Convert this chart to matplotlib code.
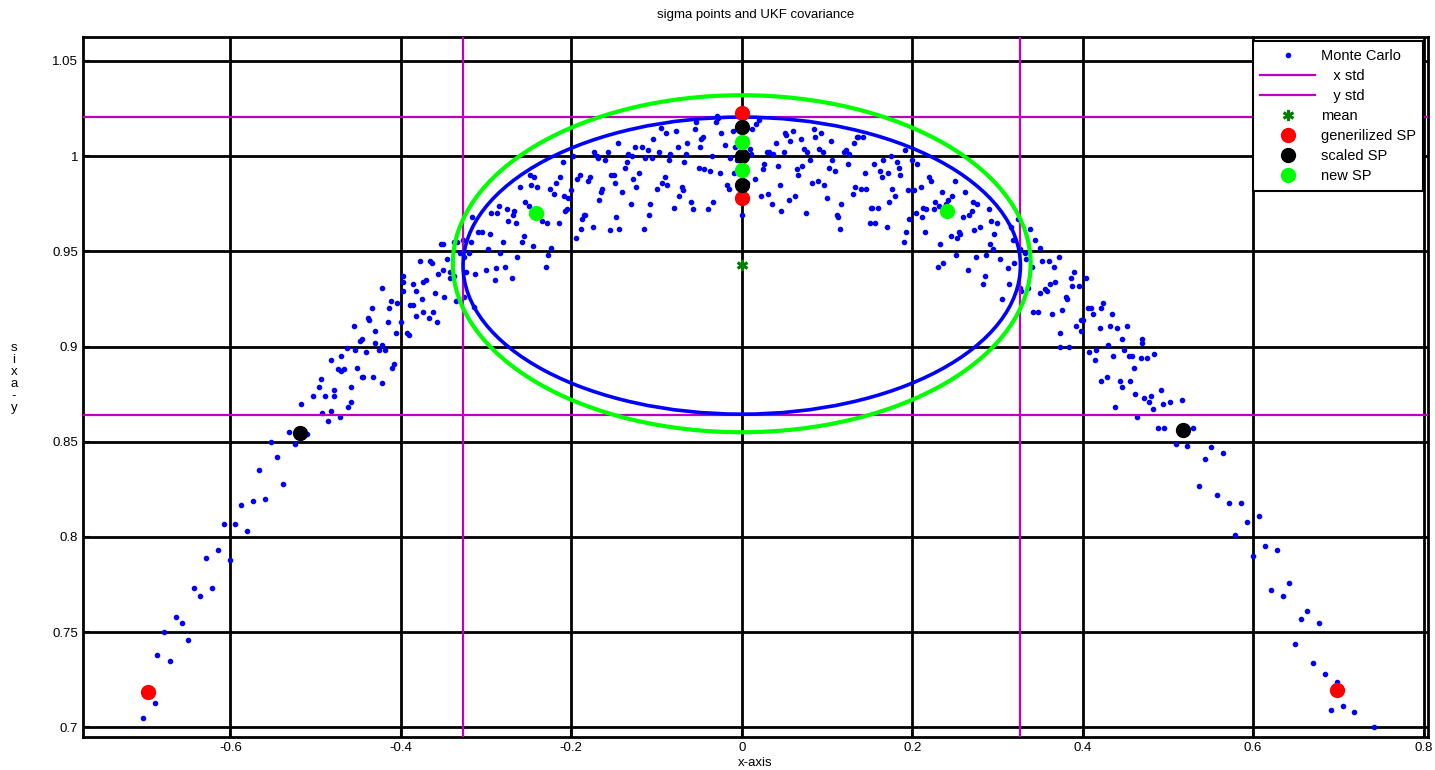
import numpy as np
import matplotlib.pyplot as plt
from matplotlib.patches import Ellipse
from matplotlib.ticker import FuncFormatter

plt.rcParams['font.family'] = ['Liberation Sans', 'DejaVu Sans']
plt.rcParams['font.size'] = 9

# Monte Carlo cloud (x, y)
mc_left_tail = [
    (-0.503, 0.874), (-0.510, 0.854), (-0.517, 0.870), (-0.524, 0.849), (-0.531, 0.855),
    (-0.538, 0.828), (-0.545, 0.842), (-0.552, 0.850), (-0.559, 0.820), (-0.566, 0.835),
    (-0.573, 0.819), (-0.580, 0.803), (-0.587, 0.817), (-0.594, 0.807), (-0.601, 0.788),
    (-0.608, 0.807), (-0.615, 0.793), (-0.622, 0.773), (-0.629, 0.789), (-0.636, 0.769),
    (-0.643, 0.773), (-0.650, 0.746), (-0.657, 0.755), (-0.664, 0.758), (-0.671, 0.735),
    (-0.678, 0.750), (-0.686, 0.738), (-0.694, 0.717), (-0.703, 0.705), (-0.689, 0.713),
]
mc_left = [
    (-0.496, 0.879), (-0.492, 0.865), (-0.489, 0.874), (-0.485, 0.861), (-0.482, 0.893),
    (-0.478, 0.877), (-0.474, 0.888), (-0.471, 0.863), (-0.467, 0.888), (-0.463, 0.899),
    (-0.459, 0.879), (-0.455, 0.911), (-0.452, 0.889), (-0.448, 0.903), (-0.444, 0.884),
    (-0.441, 0.897), (-0.437, 0.914), (-0.433, 0.884), (-0.430, 0.908), (-0.426, 0.898),
    (-0.422, 0.931), (-0.419, 0.898), (-0.415, 0.913), (-0.411, 0.924), (-0.408, 0.891),
    (-0.404, 0.923), (-0.400, 0.913), (-0.397, 0.934), (-0.393, 0.907), (-0.389, 0.922),
    (-0.386, 0.933), (-0.382, 0.916), (-0.378, 0.945), (-0.375, 0.925), (-0.371, 0.935),
    (-0.367, 0.915), (-0.364, 0.944), (-0.360, 0.928), (-0.356, 0.938), (-0.353, 0.954),
    (-0.349, 0.926), (-0.346, 0.946), (-0.342, 0.939), (-0.338, 0.955), (-0.335, 0.924),
    (-0.331, 0.949), (-0.327, 0.956), (-0.324, 0.939), (-0.320, 0.949), (-0.317, 0.968),
    (-0.313, 0.938), (-0.310, 0.960),
    (-0.478, 0.874), (-0.470, 0.895), (-0.462, 0.868), (-0.454, 0.898), (-0.446, 0.884),
    (-0.438, 0.915), (-0.430, 0.902), (-0.422, 0.881), (-0.414, 0.920), (-0.406, 0.907),
    (-0.398, 0.937), (-0.390, 0.906), (-0.382, 0.929), (-0.374, 0.918), (-0.366, 0.945),
    (-0.358, 0.913), (-0.350, 0.940), (-0.342, 0.936), (-0.334, 0.955), (-0.326, 0.926),
    (-0.318, 0.955),
    (-0.494, 0.883), (-0.482, 0.866), (-0.470, 0.887), (-0.458, 0.871), (-0.446, 0.904),
    (-0.434, 0.920), (-0.422, 0.901), (-0.410, 0.889), (-0.398, 0.929), (-0.386, 0.922),
    (-0.374, 0.934), (-0.362, 0.918), (-0.350, 0.954), (-0.338, 0.937), (-0.326, 0.947),
    (-0.314, 0.921),
]
mc_top = [
    (-0.305, 0.960), (-0.300, 0.940), (-0.295, 0.959), (-0.290, 0.935), (-0.285, 0.974),
    (-0.280, 0.955), (-0.275, 0.972), (-0.270, 0.936), (-0.265, 0.965), (-0.260, 0.984),
    (-0.255, 0.958), (-0.250, 0.974), (-0.245, 0.953), (-0.240, 0.984), (-0.235, 0.970),
    (-0.230, 0.942), (-0.225, 0.983), (-0.220, 0.980), (-0.215, 0.965), (-0.210, 0.997),
    (-0.205, 0.972), (-0.200, 0.982), (-0.195, 0.957), (-0.190, 0.990), (-0.185, 0.969),
    (-0.180, 0.987), (-0.175, 0.963), (-0.170, 1.000), (-0.165, 0.981), (-0.160, 0.998),
    (-0.155, 0.961), (-0.150, 0.990), (-0.145, 1.007), (-0.140, 0.981), (-0.135, 0.997),
    (-0.130, 0.975), (-0.125, 1.005), (-0.120, 0.991), (-0.115, 0.962), (-0.110, 1.003),
    (-0.105, 0.999), (-0.100, 0.983), (-0.095, 1.015), (-0.090, 0.989), (-0.085, 0.998),
    (-0.080, 0.973), (-0.075, 1.005), (-0.070, 0.984), (-0.065, 1.001), (-0.060, 0.976),
    (-0.055, 1.014), (-0.050, 0.994), (-0.045, 1.010), (-0.040, 0.972), (-0.035, 1.000),
    (-0.030, 1.018), (-0.025, 0.991), (-0.020, 1.006), (-0.015, 0.983), (-0.010, 1.013),
    (-0.005, 0.998), (0.000, 0.969), (0.005, 1.009), (0.010, 1.004), (0.015, 0.988),
    (0.020, 1.019), (0.025, 0.993), (0.030, 1.002), (0.035, 0.975), (0.040, 1.007),
    (0.045, 0.985), (0.050, 1.002), (0.055, 0.977), (0.060, 1.013), (0.065, 0.993),
    (0.070, 1.009), (0.075, 0.970), (0.080, 0.998), (0.085, 1.014), (0.090, 0.987),
    (0.095, 1.002), (0.100, 0.978), (0.105, 1.008), (0.110, 0.992), (0.115, 0.962),
    (0.120, 1.002), (0.125, 0.996), (0.130, 0.980), (0.135, 1.010), (0.140, 0.983),
    (0.145, 0.991), (0.150, 0.965), (0.155, 0.996), (0.160, 0.973), (0.165, 0.989),
    (0.170, 0.963), (0.175, 1.000), (0.180, 0.979), (0.185, 0.994), (0.190, 0.955),
    (0.195, 0.982), (0.200, 0.998), (0.205, 0.970), (0.210, 0.984), (0.215, 0.960),
    (0.220, 0.989), (0.225, 0.972), (0.230, 0.942), (0.235, 0.981), (0.240, 0.975),
    (0.245, 0.958), (0.250, 0.987), (0.255, 0.960), (0.260, 0.968), (0.265, 0.940),
    (0.270, 0.971), (0.275, 0.947), (0.280, 0.963), (0.285, 0.937), (0.290, 0.972),
    (0.295, 0.951), (0.300, 0.965), (0.305, 0.925),
    (-0.2975, 0.951), (-0.2875, 0.970), (-0.2775, 0.942), (-0.2675, 0.971), (-0.2575, 0.955),
    (-0.2475, 0.985), (-0.2375, 0.970), (-0.2275, 0.948), (-0.2175, 0.986), (-0.2075, 0.971),
    (-0.1975, 1.000), (-0.1875, 0.967), (-0.1775, 0.989), (-0.1675, 0.977), (-0.1575, 1.002),
    (-0.1475, 0.968), (-0.1375, 0.994), (-0.1275, 0.988), (-0.1175, 1.005), (-0.1075, 0.975),
    (-0.0975, 1.002), (-0.0875, 0.985), (-0.0775, 1.013), (-0.0675, 0.997), (-0.0575, 0.972),
    (-0.0475, 1.009), (-0.0375, 0.992), (-0.0275, 1.020), (-0.0175, 0.985), (-0.0075, 1.005),
    (0.0025, 0.991), (0.0125, 1.014), (0.0225, 0.979), (0.0325, 1.002), (0.0425, 0.995),
    (0.0525, 1.011), (0.0625, 0.979), (0.0725, 1.004), (0.0825, 0.986), (0.0925, 1.012),
    (0.1025, 0.994), (0.1125, 0.968), (0.1225, 1.003), (0.1325, 0.984), (0.1425, 1.010),
    (0.1525, 0.973), (0.1625, 0.992), (0.1725, 0.976), (0.1825, 0.997), (0.1925, 0.960),
    (0.2025, 0.982), (0.2125, 0.973), (0.2225, 0.987), (0.2325, 0.954), (0.2425, 0.977),
    (0.2525, 0.957), (0.2625, 0.981), (0.2725, 0.961), (0.2825, 0.933), (0.2925, 0.966),
    (0.3025, 0.946),
    (-0.2938, 0.970), (-0.2838, 0.949), (-0.2738, 0.966), (-0.2638, 0.947), (-0.2538, 0.976),
    (-0.2438, 0.989), (-0.2338, 0.966), (-0.2238, 0.952), (-0.2138, 0.989), (-0.2038, 0.978),
    (-0.1938, 0.988), (-0.1838, 0.969), (-0.1738, 1.002), (-0.1638, 0.983), (-0.1538, 0.990),
    (-0.1438, 0.962), (-0.1338, 1.001), (-0.1238, 0.984), (-0.1138, 0.999), (-0.1038, 1.009),
    (-0.0938, 0.986), (-0.0838, 1.001), (-0.0738, 0.979), (-0.0638, 1.007), (-0.0538, 1.018),
    (-0.0438, 0.993), (-0.0338, 0.976), (-0.0238, 1.012), (-0.0138, 0.999), (-0.0038, 1.007),
    (0.0062, 0.986), (0.0162, 1.017), (0.0262, 0.996), (0.0362, 1.001), (0.0462, 0.971),
    (0.0562, 1.008), (0.0662, 0.990), (0.0762, 1.002), (0.0862, 1.010), (0.0962, 0.985),
    (0.1062, 0.998), (0.1162, 0.975), (0.1262, 1.001), (0.1362, 1.010), (0.1462, 0.983),
    (0.1562, 0.965), (0.1662, 0.998), (0.1762, 0.983), (0.1862, 0.990), (0.1962, 0.967),
    (0.2062, 0.996), (0.2162, 0.972), (0.2262, 0.976), (0.2362, 0.944), (0.2462, 0.979),
    (0.2562, 0.959), (0.2662, 0.969), (0.2762, 0.975), (0.2862, 0.948), (0.2962, 0.959),
    (-0.2888, 0.941), (-0.2688, 0.969), (-0.2488, 0.990), (-0.2288, 0.965), (-0.2088, 0.979),
    (-0.1888, 0.962), (-0.1688, 0.999), (-0.1488, 0.986), (-0.1288, 1.000), (-0.1088, 0.969),
    (-0.0888, 1.012), (-0.0688, 0.982), (-0.0488, 1.005), (-0.0288, 1.021), (-0.0088, 0.991),
    (0.0112, 1.001), (0.0312, 0.980), (0.0512, 1.012), (0.0712, 0.995), (0.0912, 1.004),
    (0.1112, 0.969), (0.1312, 1.007), (0.1512, 0.973), (0.1712, 0.991), (0.1912, 1.003),
    (0.2112, 0.968), (0.2312, 0.974), (0.2512, 0.948), (0.2712, 0.976), (0.2912, 0.954),
]
mc_right = [
    (0.312, 0.941), (0.316, 0.963), (0.320, 0.944), (0.324, 0.967), (0.328, 0.929),
    (0.332, 0.949), (0.336, 0.931), (0.340, 0.942), (0.344, 0.956), (0.348, 0.918),
    (0.352, 0.945), (0.356, 0.930), (0.360, 0.945), (0.364, 0.917), (0.368, 0.934),
    (0.372, 0.947), (0.376, 0.919), (0.380, 0.926), (0.384, 0.900), (0.388, 0.932),
    (0.392, 0.911), (0.396, 0.932), (0.400, 0.914), (0.404, 0.936), (0.408, 0.897),
    (0.412, 0.917), (0.416, 0.898), (0.420, 0.910), (0.424, 0.923), (0.428, 0.884),
    (0.432, 0.911), (0.436, 0.895), (0.440, 0.910), (0.444, 0.882), (0.448, 0.898),
    (0.452, 0.911), (0.456, 0.882), (0.460, 0.889), (0.464, 0.863), (0.468, 0.894),
    (0.472, 0.873), (0.476, 0.894), (0.480, 0.874), (0.484, 0.896), (0.488, 0.857),
    (0.492, 0.877), (0.496, 0.857),
    (0.318, 0.956), (0.326, 0.931), (0.334, 0.946), (0.342, 0.918), (0.350, 0.952),
    (0.358, 0.929), (0.366, 0.942), (0.374, 0.900), (0.382, 0.925), (0.390, 0.939),
    (0.398, 0.908), (0.406, 0.920), (0.414, 0.893), (0.422, 0.920), (0.430, 0.901),
    (0.438, 0.868), (0.446, 0.904), (0.454, 0.895), (0.462, 0.875), (0.470, 0.902),
    (0.478, 0.871),
    (0.314, 0.933), (0.326, 0.951), (0.338, 0.962), (0.350, 0.928), (0.362, 0.933),
    (0.374, 0.907), (0.386, 0.936), (0.398, 0.914), (0.410, 0.920), (0.422, 0.882),
    (0.434, 0.917), (0.446, 0.879), (0.458, 0.895), (0.470, 0.904), (0.482, 0.867),
    (0.494, 0.870),
]
mc_right_tail = [
    (0.502, 0.871), (0.509, 0.849), (0.516, 0.872), (0.523, 0.848), (0.530, 0.857),
    (0.537, 0.827), (0.544, 0.841), (0.551, 0.847), (0.558, 0.822), (0.565, 0.844),
    (0.572, 0.818), (0.579, 0.801), (0.586, 0.818), (0.593, 0.808), (0.600, 0.790),
    (0.607, 0.811), (0.614, 0.795), (0.621, 0.772), (0.628, 0.793), (0.635, 0.769),
    (0.642, 0.776), (0.649, 0.744), (0.656, 0.757), (0.663, 0.761), (0.670, 0.734),
    (0.677, 0.755), (0.684, 0.728), (0.691, 0.709), (0.698, 0.724), (0.706, 0.711),
    (0.718, 0.708), (0.742, 0.700),
]

# std lines and ellipses
x_std = 0.327
y_std_lines = [1.0206, 0.8643]
mean_pt = (0.0, 0.943)
ukf_center = (0.0, 0.9425)
ukf_semi = (0.327, 0.078)
new_center = (0.0, 0.9435)
new_semi = (0.339, 0.0885)

# sigma points
gen_x = [0.0, 0.0, -0.697, 0.698]
gen_y = [1.0228, 0.978, 0.7184, 0.7195]
scaled_x = [0.0, 0.0, 0.0, -0.518, 0.518]
scaled_y = [1.0154, 1.0, 0.985, 0.8548, 0.8564]
new_x = [0.0, 0.0, -0.241, 0.241]
new_y = [1.0075, 0.9928, 0.970, 0.9713]

xticks = [-0.6, -0.4, -0.2, 0, 0.2, 0.4, 0.6, 0.8]
yticks = [0.7, 0.75, 0.8, 0.85, 0.9, 0.95, 1.0, 1.05]

mc = np.array(mc_left_tail + mc_left + mc_top + mc_right + mc_right_tail)

fig = plt.figure(figsize=(14.35, 7.7), dpi=100)
ax = fig.add_axes([0.0578, 0.043, 0.9372, 0.909])

ax.plot(mc[:, 0], mc[:, 1], '.', color='#0000ff', ms=6, label='Monte Carlo', zorder=3)
mag = '#bf00bf'
ax.axvline(-x_std, color=mag, lw=1.6, label='   x std', zorder=4)
ax.axvline(x_std, color=mag, lw=1.6, zorder=4)
ax.axhline(y_std_lines[0], color=mag, lw=1.6, label='   y std', zorder=4)
ax.axhline(y_std_lines[1], color=mag, lw=1.6, zorder=4)

ax.add_patch(Ellipse(new_center, 2 * new_semi[0], 2 * new_semi[1], fill=False,
                     edgecolor='#00ff00', lw=3.0, zorder=5))
ax.add_patch(Ellipse(ukf_center, 2 * ukf_semi[0], 2 * ukf_semi[1], fill=False,
                     edgecolor='#0000ff', lw=2.6, zorder=5))

ax.plot([mean_pt[0]], [mean_pt[1]], marker=(6, 2, 0), ls='none', color='#007f00',
        ms=8, mew=2, label='mean', zorder=6)
ax.plot(gen_x, gen_y, 'o', color='#ff0000', ms=10, label='generilized SP', zorder=6)
ax.plot(scaled_x, scaled_y, 'o', color='k', ms=10, label='scaled SP', zorder=6)
ax.plot(new_x, new_y, 'o', color='#00ff00', ms=10, label='new SP', zorder=6)

ax.set_xlim(-0.773, 0.805)
ax.set_ylim(0.695, 1.0626)
ax.set_xticks(xticks)
ax.set_yticks(yticks)
fmt = FuncFormatter(lambda v, p: '%g' % round(v, 3))
ax.xaxis.set_major_formatter(fmt)
ax.yaxis.set_major_formatter(fmt)
ax.grid(True, color='k', lw=2, zorder=1)
ax.set_axisbelow(True)
for s in ax.spines.values():
    s.set_linewidth(2)
ax.tick_params(direction='in', length=5, width=1.5, labelsize=9.5)

ax.set_title('sigma points and UKF covariance', fontsize=9.5, pad=14)
ax.set_xlabel('x-axis', fontsize=9.5, labelpad=2)
fig.text(0.0098, 0.509, 's\ni\nx\na\n-\ny', ha='center', va='center',
         fontsize=9.5, linespacing=1.0)

leg = ax.legend(loc='upper right', fancybox=False, framealpha=1, edgecolor='k',
                fontsize=10.5, borderaxespad=0.3, borderpad=0.5, handlelength=3.8,
                handletextpad=0.4, labelspacing=0.42)
leg.get_frame().set_linewidth(1.5)

fig.savefig('out.png', dpi=100)
